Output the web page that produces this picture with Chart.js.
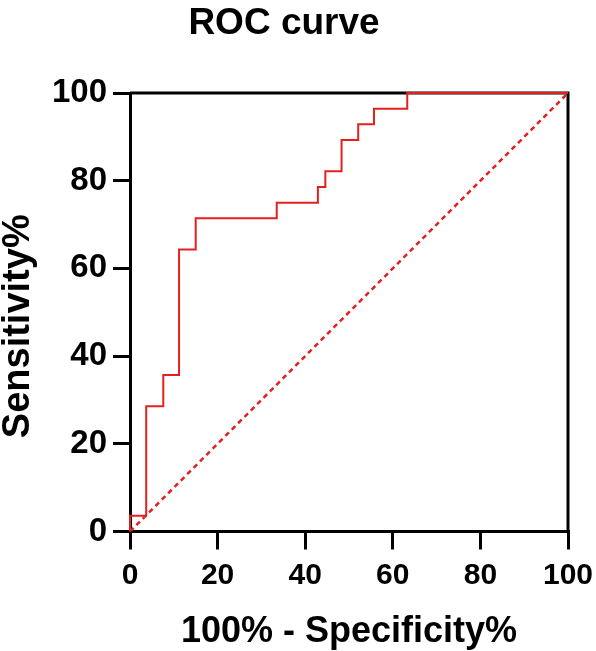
<!DOCTYPE html>
<html>
<head>
<meta charset="utf-8">
<script src="https://cdn.jsdelivr.net/npm/chart.js@4"></script>
<style>
  html, body { margin: 0; padding: 0; background: #fff; }
  #wrap { width: 596px; height: 651px; }
</style>
</head>
<body>
<div id="wrap"><canvas id="rocChart" width="596" height="651"></canvas></div>
<script>
// ROC points (100% - specificity, sensitivity)
var fpr = [0, 3.7, 7.6, 11.2, 15.0, 33.5, 42.9, 44.6, 48.3, 52.1, 55.7, 63.3, 100];
var tpr = [0, 3.57, 28.57, 35.71, 64.29, 71.43, 75.0, 78.57, 82.14, 89.29, 92.86, 96.43, 100];
// reference line
var refX = [0, 100];
var refY = [0, 100];
var tickValues = [0, 20, 40, 60, 80, 100];

var RED = '#e3201f';
var FONT = "'Liberation Sans', Arial, sans-serif";

function toPoints(xs, ys) {
  return xs.map(function (x, i) { return { x: x, y: ys[i] }; });
}

// top and right sides of the frame, plus the y axis title (sits a bit low in the original)
var frame = {
  id: 'frame',
  beforeDatasetsDraw: function (chart) {
    var a = chart.chartArea, c = chart.ctx;
    c.save();
    c.strokeStyle = '#000';
    c.lineWidth = 3;
    c.beginPath();
    c.moveTo(a.left, a.top);
    c.lineTo(a.right, a.top);
    c.lineTo(a.right, a.bottom);
    c.stroke();
    c.restore();
  },
  afterDraw: function (chart) {
    var a = chart.chartArea, c = chart.ctx;
    c.save();
    c.translate(19, (a.top + a.bottom) / 2 + 14);
    c.rotate(-Math.PI / 2);
    c.fillStyle = '#000';
    c.font = 'bold 38px ' + FONT;
    c.textAlign = 'center';
    c.textBaseline = 'middle';
    c.fillText('Sensitivity%', 0, 0);
    c.restore();
  }
};

new Chart(document.getElementById('rocChart'), {
  type: 'scatter',
  data: {
    datasets: [{
      data: toPoints(fpr, tpr),
      showLine: true,
      stepped: 'after',
      borderColor: RED,
      borderWidth: 2,
      pointRadius: 0,
      fill: false,
      clip: 4
    }, {
      data: toPoints(refX, refY),
      showLine: true,
      borderColor: RED,
      borderWidth: 2.5,
      borderDash: [5, 4],
      pointRadius: 0,
      fill: false
    }]
  },
  options: {
    responsive: false,
    animation: false,
    layout: { padding: { left: 0, right: 28, top: 0, bottom: 0 } },
    plugins: {
      legend: { display: false },
      tooltip: { enabled: false },
      title: {
        display: true,
        text: 'ROC curve',
        color: '#000',
        font: { family: FONT, size: 37, weight: 'bold', lineHeight: 1.2 },
        padding: { top: 2, bottom: 46.6 }
      }
    },
    scales: {
      x: {
        type: 'linear',
        min: 0,
        max: 100,
        afterBuildTicks: function (s) { s.ticks = tickValues.map(function (v) { return { value: v }; }); },
        afterFit: function (s) { s.height = 119.5; s.paddingRight = 0; s.paddingLeft = 0; },
        border: { color: '#000', width: 3 },
        grid: { drawOnChartArea: false, tickLength: 18, tickColor: '#000', lineWidth: 3 },
        ticks: { color: '#000', padding: 8, maxRotation: 0, font: { family: FONT, size: 30, weight: 'bold' } },
        title: {
          display: true,
          text: '100% - Specificity%',
          color: '#000',
          padding: { top: 0, bottom: 1 },
          font: { family: FONT, size: 36, weight: 'bold', lineHeight: 1 }
        }
      },
      y: {
        type: 'linear',
        min: 0,
        max: 100,
        afterBuildTicks: function (s) { s.ticks = tickValues.map(function (v) { return { value: v }; }); },
        afterFit: function (s) { s.width = 130; },
        border: { color: '#000', width: 3 },
        grid: { drawOnChartArea: false, tickLength: 17, tickColor: '#000', lineWidth: 3 },
        ticks: { color: '#000', padding: 6, font: { family: FONT, size: 33, weight: 'bold' } }
      }
    }
  },
  plugins: [frame]
});
</script>
</body>
</html>
